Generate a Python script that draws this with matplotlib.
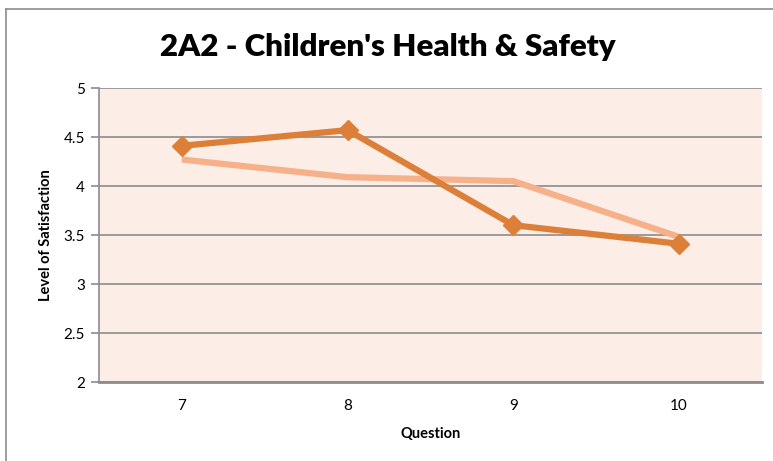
import matplotlib
matplotlib.use("Agg")
import matplotlib.pyplot as plt
from matplotlib.lines import Line2D

questions = ["7", "8", "9", "10"]
series_dark = [4.41, 4.57, 3.60, 3.41]
series_light = [4.27, 4.09, 4.05, 3.48]
y_ticks = [2, 2.5, 3, 3.5, 4, 4.5, 5]
y_tick_labels = ["2", "2.5", "3", "3.5", "4", "4.5", "5"]

plt.rcParams['font.family'] = ['Lato', 'DejaVu Sans']

W, H = 773, 461
fig = plt.figure(figsize=(W / 100, H / 100), dpi=100)
fig.patch.set_facecolor('white')

# outer chart frame (left and top edges visible)
fx, fy = 6 / W, 1 - 9 / H
fig.add_artist(Line2D([fx, fx], [-0.1, fy], transform=fig.transFigure, color='#8c8c8c', lw=1.2))
fig.add_artist(Line2D([fx, 1.1], [fy, fy], transform=fig.transFigure, color='#8c8c8c', lw=1.2))

left, right, top, bottom = 99, 762, 88, 382
ax = fig.add_axes([left / W, 1 - bottom / H, (right - left) / W, (bottom - top) / H])
ax.set_facecolor('#fcede7')

x = list(range(len(questions)))
ax.plot(x, series_light, color='#f6b18a', lw=4.5, solid_capstyle='butt', zorder=3)
ax.plot(x, series_dark, color='#dc8039', lw=4.5, marker='D', markersize=10, zorder=4)

ax.set_xlim(-0.5, len(questions) - 0.5)
ax.set_ylim(2, 5)
ax.set_xticks(x)
ax.set_xticklabels(questions, fontsize=11)
ax.set_yticks(y_ticks)
ax.set_yticklabels(y_tick_labels, fontsize=11)
ax.tick_params(axis='x', length=0, pad=12)
ax.tick_params(axis='y', length=6, color='#8c8c8c', width=1.2, pad=4)
ax.grid(axis='y', color='#8c8c8c', lw=1.2, zorder=1)
ax.set_axisbelow(True)
for s in ['top', 'right']:
    ax.spines[s].set_visible(False)
ax.spines['left'].set_color('#8c8c8c')
ax.spines['left'].set_linewidth(1.2)
ax.spines['bottom'].set_color('#8c8c8c')
ax.spines['bottom'].set_linewidth(2)

ax.set_xlabel('Question', fontsize=10.5, fontweight='bold', labelpad=10)
ax.set_ylabel('Level of Satisfaction', fontsize=10.5, fontweight='bold', labelpad=8)

fig.text(388 / W, 1 - 47 / H, "2A2 - Children's Health & Safety", ha='center', va='center',
         fontsize=22.5, fontweight='heavy')

fig.savefig('out.png', dpi=100)
